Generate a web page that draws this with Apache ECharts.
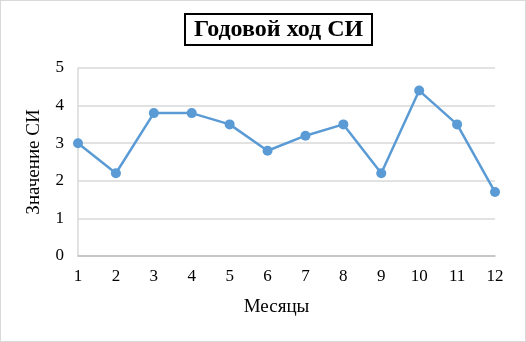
<!DOCTYPE html>
<html><head><meta charset="utf-8">
<script src="https://cdn.jsdelivr.net/npm/echarts@6/dist/echarts.min.js"></script>
<style>html,body{margin:0;padding:0;background:#fff}#c{width:526px;height:342px;box-sizing:border-box;border:1px solid #d9d9d9}</style>
</head><body><div id="c"></div>
<script>
const months = ['1','2','3','4','5','6','7','8','9','10','11','12'];
const values = [3.0, 2.2, 3.8, 3.8, 3.5, 2.8, 3.2, 3.5, 2.2, 4.4, 3.5, 1.7];
const titleText = 'Годовой ход СИ';
const xName = 'Месяцы';
const yName = 'Значение СИ';
const chart = echarts.init(document.getElementById('c'));
const serif = '"Liberation Serif", "DejaVu Serif", serif';
chart.setOption({
  animation: false,
  title: {
    text: titleText, left: 184, top: 13,
    borderColor: '#000', borderWidth: 2, padding: [4, 9, 3, 9],
    textStyle: {fontFamily: serif, fontWeight: 'bold', fontSize: 24, color: '#000'}
  },
  grid: {left: 77, right: 30, top: 67, bottom: 85, containLabel: false},
  xAxis: {
    type: 'category', data: months, boundaryGap: false,
    name: xName, nameLocation: 'middle', nameGap: 42,
    nameTextStyle: {fontFamily: serif, fontSize: 19, color: '#000', padding: [0, 20, 0, 0]},
    axisLine: {lineStyle: {color: '#bfbfbf', width: 1.5}},
    axisTick: {show: false},
    axisLabel: {fontFamily: serif, fontSize: 17, color: '#000', margin: 12}
  },
  yAxis: {
    type: 'value', min: 0, max: 5, interval: 1,
    name: yName, nameLocation: 'middle', nameGap: 34,
    nameTextStyle: {fontFamily: serif, fontSize: 19, color: '#000'},
    axisLine: {show: true, lineStyle: {color: '#d9d9d9', width: 1.5}},
    axisTick: {show: false},
    axisLabel: {fontFamily: serif, fontSize: 17, color: '#000', margin: 14},
    splitLine: {lineStyle: {color: '#d9d9d9', width: 1.5}}
  },
  series: [{
    type: 'line', data: values,
    symbol: 'circle', symbolSize: 10,
    lineStyle: {color: '#5b9bd5', width: 2.5},
    itemStyle: {color: '#5b9bd5'}
  }]
});
</script></body></html>
